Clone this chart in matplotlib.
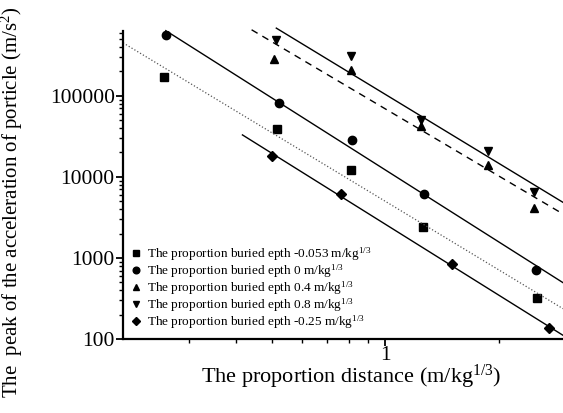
import numpy as np
import matplotlib
matplotlib.use("Agg")
import matplotlib.pyplot as plt
import matplotlib as mpl
from matplotlib.ticker import LogLocator, NullFormatter, FixedLocator, FixedFormatter

mpl.rcParams['font.family'] = 'serif'
mpl.rcParams['font.serif'] = ['Liberation Serif', 'DejaVu Serif']
mpl.rcParams['mathtext.fontset'] = 'custom'
mpl.rcParams['mathtext.rm'] = 'Liberation Serif'
mpl.rcParams['mathtext.it'] = 'Liberation Serif'

# scaled distance (m/kg^1/3) and peak particle acceleration (m/s^2)
x_m0053 = [0.257, 0.515, 0.807, 1.255, 2.53]
y_m0053 = [172000, 39000, 12200, 2420, 320]

x_0 = [0.26, 0.519, 0.812, 1.27, 2.51]
y_0 = [566000, 82000, 28600, 6170, 711]

x_04 = [0.506, 0.807, 1.24, 1.87, 2.48]
y_04 = [286000, 209000, 42600, 14100, 4140]

x_08 = [0.512, 0.807, 1.24, 1.87, 2.48]
y_08 = [490000, 312000, 50600, 20900, 6530]

x_m025 = [0.5, 0.759, 1.5, 2.72]
y_m025 = [18100, 6170, 843, 137]

labels = [r'The proportion buried epth -0.053 m/kg$^{1/3}$',
          r'The proportion buried epth 0 m/kg$^{1/3}$',
          r'The proportion buried epth 0.4 m/kg$^{1/3}$',
          r'The proportion buried epth 0.8 m/kg$^{1/3}$',
          r'The proportion buried epth -0.25 m/kg$^{1/3}$']

XMAX = 2.97

# (x, y, marker, line style, line color, line width, fit line start)
series = [
    (x_m0053, y_m0053, 's', ':', '#555555', 0.9, 0.2),
    (x_0, y_0, 'o', '-', 'black', 1.0, 0.26),
    (x_04, y_04, '^', (0, (5, 4)), 'black', 1.0, 0.44),
    (x_08, y_08, 'v', '-', 'black', 1.0, 0.512),
    (x_m025, y_m025, 'D', '-', 'black', 1.0, 0.416),
]

fig = plt.figure(figsize=(5.63, 4.13), dpi=100)
ax = fig.add_axes([0.2185, 0.179, 0.7815, 0.746])

for (xs, ys, mk, ls, lc, lw, x0), lb in zip(series, labels):
    ms = 5.0 if mk == 'D' else 6
    ax.plot(xs, ys, linestyle='none', marker=mk, color='black', ms=ms, label=lb)
    # power-law fit in log-log space
    p = np.polyfit(np.log10(xs), np.log10(ys), 1)
    xf = np.array([x0, XMAX])
    yf = 10 ** np.polyval(p, np.log10(xf))
    ax.plot(xf, yf, linestyle=ls, color=lc, lw=lw, clip_on=False)

ax.set_xscale('log')
ax.set_yscale('log')
ax.set_xlim(0.2, XMAX)
ax.set_ylim(100, 6.3e5)

for s in ['top', 'right']:
    ax.spines[s].set_visible(False)
for s in ['left', 'bottom']:
    ax.spines[s].set_linewidth(1.6)

ax.xaxis.set_major_locator(FixedLocator([1]))
ax.xaxis.set_major_formatter(FixedFormatter(['1']))
ax.xaxis.set_minor_locator(FixedLocator([0.3, 0.4, 0.5, 0.6, 0.7, 0.8, 0.9, 2, 3]))
ax.xaxis.set_minor_formatter(NullFormatter())

ax.yaxis.set_major_locator(LogLocator(base=10, numticks=10))
ax.yaxis.set_minor_locator(LogLocator(base=10, subs=np.arange(2, 10), numticks=20))
ax.yaxis.set_minor_formatter(NullFormatter())
ax.yaxis.set_major_formatter(mpl.ticker.FuncFormatter(lambda v, pos: '%d' % round(v)))

ax.tick_params(which='major', length=5, width=1.3, labelsize=15.5, direction='out', pad=1)
ax.tick_params(axis='x', which='major', pad=0)
ax.tick_params(which='minor', length=3, width=1.0, direction='out')

ax.set_xlabel(r'The proportion distance (m/kg$^{1/3}$)', fontsize=16)
ax.set_ylabel(r'The  peak of the acceleration of porticle (m/s$^2$)', fontsize=15)
ax.xaxis.set_label_coords(0.518, -0.078)
ax.yaxis.set_label_coords(-0.222, 0.445)

ax.legend(loc='lower left', bbox_to_anchor=(0.0, 0.0), frameon=False, fontsize=9.5,
          handlelength=0.8, handletextpad=0.4, labelspacing=-0.05, borderaxespad=0.2,
          markerscale=0.8)

fig.savefig('out.png', dpi=100)
